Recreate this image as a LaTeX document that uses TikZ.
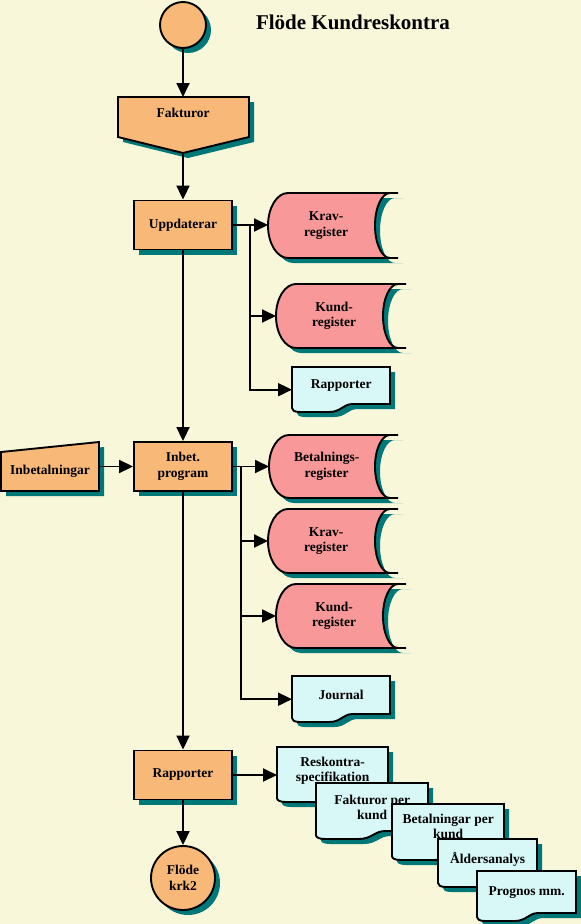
\documentclass[tikz,border=0pt]{standalone}
\usepackage{fontspec}
\setmainfont{Liberation Serif}
\usetikzlibrary{arrows.meta,shadows}
\definecolor{bg}{RGB}{248,247,218}
\definecolor{orangefill}{RGB}{248,184,120}
\definecolor{pinkfill}{RGB}{248,152,152}
\definecolor{cyanfill}{RGB}{216,248,248}
\definecolor{shadowteal}{RGB}{0,120,120}
% stored data: x, y (top left), width, height
\newcommand{\storepath}[4]{(#1+#3,#2) -- (#1+20,#2)
  arc[start angle=270, end angle=90, x radius=20, y radius=#4/2]
  -- (#1+#3,#2+#4) -- (#1+#3-8,#2+#4)
  arc[start angle=90, end angle=270, x radius=15, y radius=#4/2] -- cycle}
% document: x, y (top left), width, height
\newcommand{\docpath}[4]{(#1,#2) -- (#1+#3,#2) -- (#1+#3,#2+#4-8)
  -- (#1+0.62*#3,#2+#4-8)
  .. controls (#1+0.52*#3,#2+#4-8) and (#1+0.5*#3,#2+#4) .. (#1+0.38*#3,#2+#4)
  -- (#1+0.08*#3,#2+#4)
  .. controls (#1+0.02*#3,#2+#4) and (#1,#2+#4-2) .. (#1,#2+#4-4) -- cycle}
\begin{document}
\begin{tikzpicture}[x=1pt, y=-1pt,
    font=\fontsize{13.5}{15.5}\selectfont\bfseries,
    shd/.style={drop shadow={shadow xshift=5pt, shadow yshift=-5pt,
        fill=shadowteal, opacity=1}},
    arr/.style={line width=1.9pt, -{Triangle[length=14pt, width=13pt]}},
    proc/.style={draw, line width=1.9pt, fill=orangefill, shd,
        minimum width=98, minimum height=49, align=center},
    term/.style={circle, draw, line width=1.9pt, fill=orangefill, shd,
        align=center, inner sep=0pt},
    manual/.style={draw, line width=1.9pt, fill=orangefill, shd},
    store/.style={draw, line width=1.9pt, fill=pinkfill, shd},
    docu/.style={draw, line width=1.9pt, fill=cyanfill, shd},
    txt/.style={align=center, inner sep=0pt}]
  \path[use as bounding box, fill=bg] (0,0) rectangle (581,924);

  \node[term, minimum size=46] (start) at (183,25) {};
  \node[font=\fontsize{21}{24}\selectfont\bfseries] (title) at (353,22)
    {Flöde Kundreskontra};

  % Fakturor
  \filldraw[manual] (118,97) -- (249,97) -- (249,137) -- (183,153)
    -- (118,137) -- cycle;
  \node[txt, minimum width=131, minimum height=32, anchor=north] (fakt)
    at (183,97) {Fakturor};
  \coordinate (fakttip) at (183,153);

  \node[proc] (upd) at (183,225) {Uppdaterar};

  % registers after Uppdaterar
  \filldraw[store] \storepath{268}{193}{130}{65};
  \node[txt, minimum width=116, minimum height=65, anchor=west] (krav1)
    at (268,225.5) {Krav-\\register};
  \filldraw[store] \storepath{276}{284}{130}{64};
  \node[txt, minimum width=116, minimum height=64, anchor=west] (kund1)
    at (276,316) {Kund-\\register};
  \filldraw[docu] \docpath{292}{367}{98}{45};
  \node[txt, minimum width=98, minimum height=37, anchor=north west] (rapp1)
    at (292,367) {Rapporter};

  % Inbetalningar
  \filldraw[manual] (1,452) -- (99,442) -- (99,491) -- (1,491) -- cycle;
  \node[txt, minimum width=98, minimum height=30] (inbetal) at (50,471)
    {Inbetalningar};
  \node[proc] (inbet) at (183,466.5) {Inbet.\\program};

  % registers after Inbet. program
  \filldraw[store] \storepath{269}{435}{129}{63};
  \node[txt, minimum width=115, minimum height=63, anchor=west] (betal)
    at (269,466.5) {Betalnings-\\register};
  \filldraw[store] \storepath{268}{509}{130}{64};
  \node[txt, minimum width=116, minimum height=64, anchor=west] (krav2)
    at (268,541) {Krav-\\register};
  \filldraw[store] \storepath{276}{584}{130}{64};
  \node[txt, minimum width=116, minimum height=64, anchor=west] (kund2)
    at (276,616) {Kund-\\register};
  \filldraw[docu] \docpath{292}{676}{98}{46};
  \node[txt, minimum width=98, minimum height=38, anchor=north west] (journal)
    at (292,676) {Journal};

  \node[proc] (rapp) at (183,775) {Rapporter};
  \node[term, minimum size=64] (slut) at (183,878) {Flöde\\krk2};

  % report cascade
  \filldraw[docu] \docpath{277}{747}{111}{55};
  \node[txt, minimum width=111, minimum height=47, anchor=north west] (resk)
    at (277,747) {Reskontra-\\specifikation};
  \filldraw[docu] \docpath{316}{783}{112}{56};
  \node[txt, minimum width=112, minimum height=48, anchor=north west] (fpk)
    at (316,783) {Fakturor per\\kund};
  \filldraw[docu] \docpath{392}{804}{112}{56};
  \node[txt, minimum width=112, minimum height=44, anchor=north west] (bpk)
    at (392,804) {Betalningar per\\kund};
  \filldraw[docu] \docpath{438}{839}{99}{48};
  \node[txt, minimum width=99, minimum height=40, anchor=north west] (alder)
    at (438,839) {Åldersanalys};
  \filldraw[docu] \docpath{477}{871}{99}{50};
  \node[txt, minimum width=99, minimum height=42, anchor=north west] (prog)
    at (477,871) {Prognos mm.};

  % connectors
  \draw[arr] (start) -- (fakt.north);
  \draw[arr] (fakttip) -- (upd);
  \draw[arr] (upd) -- (inbet);
  \draw[arr] (inbet) -- (rapp);
  \draw[arr] (rapp) -- (slut);
  \coordinate (j1) at (250,225);
  \draw[arr] (upd.east) -- (upd.east -| krav1.west);
  \draw[arr] (j1) |- (kund1.west);
  \draw[arr] (j1) |- ([yshift=-4pt]rapp1.west);
  \draw[arr] (inbetal.east |- inbet.west) -- (inbet.west);
  \coordinate (j2) at (241,466.5);
  \draw[arr] (inbet.east) -- (betal.west);
  \draw[arr] (j2) |- (krav2.west);
  \draw[arr] (j2) |- (kund2.west);
  \draw[arr] (j2) |- ([yshift=-4pt]journal.west);
  \draw[arr] (rapp.east) -- (rapp.east -| resk.west);
\end{tikzpicture}
\end{document}
